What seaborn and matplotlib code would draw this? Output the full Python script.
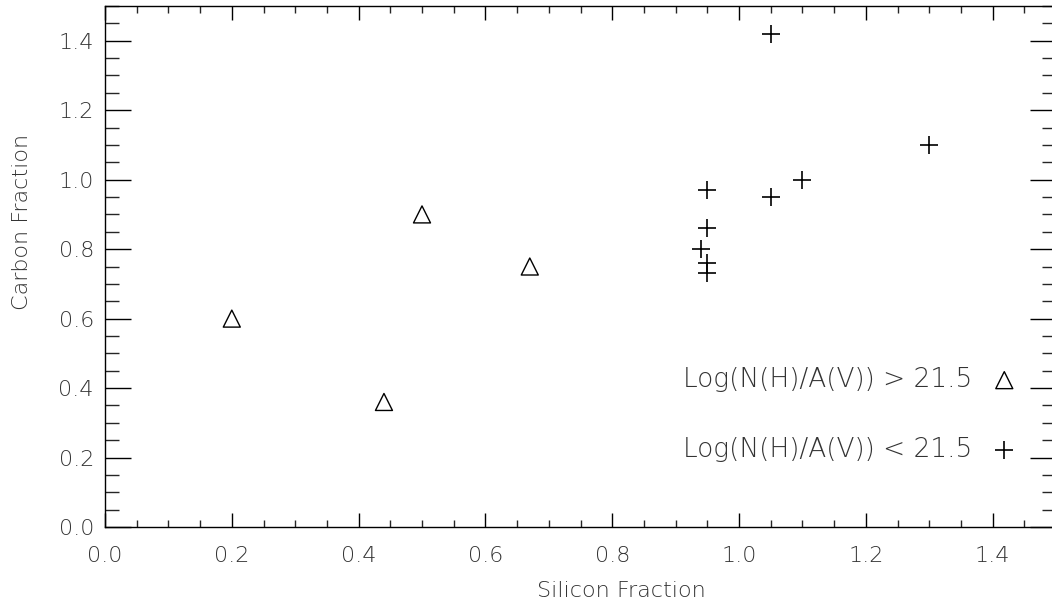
import matplotlib
matplotlib.use("Agg")
import matplotlib.pyplot as plt
import seaborn as sns
import pandas as pd
from matplotlib.ticker import MultipleLocator, FormatStrFormatter

# Data
tri_x = [0.20, 0.44, 0.50, 0.67]
tri_y = [0.60, 0.36, 0.90, 0.75]
plus_x = [0.95, 0.95, 0.94, 0.95, 0.95, 1.05, 1.05, 1.10, 1.30]
plus_y = [0.97, 0.86, 0.80, 0.76, 0.73, 1.42, 0.95, 1.00, 1.10]
label_hi = "Log(N(H)/A(V)) > 21.5"
label_lo = "Log(N(H)/A(V)) < 21.5"
x_label = "Silicon Fraction"
y_label = "Carbon Fraction"

sns.set_theme(style="ticks")
plt.rcParams['font.family'] = ['DejaVu Sans']
plt.rcParams['font.weight'] = 'light'

fig = plt.figure(figsize=(10.52, 6.06), dpi=100)
ax = fig.add_axes([105/1052, 1-527/606, (1056-105)/1052, (527-6)/606])

df_hi = pd.DataFrame({"x": tri_x, "y": tri_y})
df_lo = pd.DataFrame({"x": plus_x, "y": plus_y})

sns.scatterplot(data=df_hi, x="x", y="y", marker="^", s=150, facecolors="none",
                edgecolor="black", linewidth=1.0, ax=ax, label=label_hi)
sns.scatterplot(data=df_lo, x="x", y="y", marker="+", s=170, color="black",
                linewidth=1.2, ax=ax, label=label_lo)

ax.set_xlim(0, 1.5)
ax.set_ylim(0, 1.5)
ax.xaxis.set_major_locator(MultipleLocator(0.2))
ax.xaxis.set_minor_locator(MultipleLocator(0.05))
ax.yaxis.set_major_locator(MultipleLocator(0.2))
ax.yaxis.set_minor_locator(MultipleLocator(0.05))
ax.xaxis.set_major_formatter(FormatStrFormatter('%.1f'))
ax.yaxis.set_major_formatter(FormatStrFormatter('%.1f'))

ax.tick_params(axis='x', which='major', direction='in', length=10, width=1.0,
               top=True, labelsize=16, pad=14, colors='black')
ax.tick_params(axis='x', which='minor', direction='in', length=5, width=1.0, top=True)
ax.tick_params(axis='y', which='major', direction='in', length=19, width=1.0,
               right=True, labelsize=16, pad=8, colors='black')
ax.tick_params(axis='y', which='minor', direction='in', length=10, width=1.0, right=True)
for lab in ax.get_xticklabels() + ax.get_yticklabels():
    lab.set_color('#333333')

for sp in ax.spines.values():
    sp.set_linewidth(1.0)
    sp.set_color('black')

ax.set_xlabel("")
ax.set_ylabel("")
fig.text(621/1052, 1-591/606, x_label, ha='center', va='center', fontsize=16, color='#333333')
fig.text(22/1052, 1-222/606, y_label, ha='center', va='center', rotation=90, fontsize=16, color='#333333')

leg = ax.legend(loc='center right', bbox_to_anchor=(0.9595, (527-414.5)/521),
                frameon=False, markerfirst=False, fontsize=19, labelspacing=1.7,
                handletextpad=0.7, handlelength=1.0, borderpad=0, borderaxespad=0)
for t in leg.get_texts():
    t.set_color('#333333')

fig.savefig("out.png", dpi=100)
